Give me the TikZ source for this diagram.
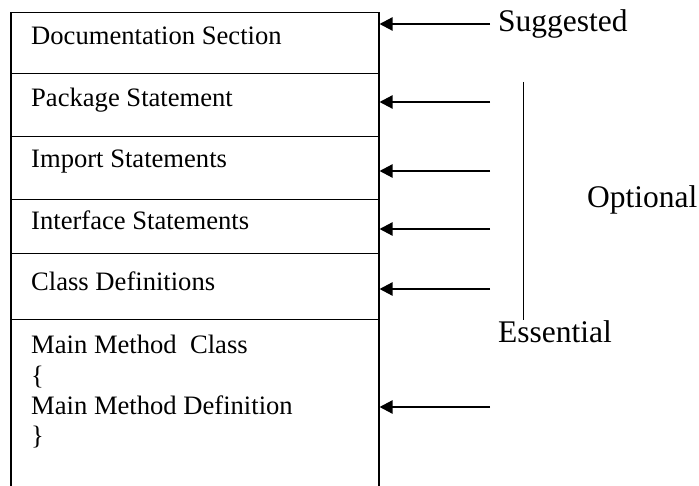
\documentclass[tikz,border=0pt]{standalone}
\usepackage{fontspec}
\setmainfont{Liberation Serif}
\usetikzlibrary{arrows.meta}
\begin{document}
\begin{tikzpicture}[x=1pt,y=-1pt,
  row/.style={draw, line width=1.5pt, minimum width=368pt, inner sep=0pt, anchor=north west},
  rowtext/.style={anchor=base west, inner sep=0pt, font=\fontsize{26.6}{30.4}\selectfont},
  sidelabel/.style={anchor=base west, inner sep=0pt, font=\fontsize{31.5}{36}\selectfont},
  arr/.style={line width=2.2pt, -{Triangle[length=13pt,width=13pt]}}]
\clip (0,0) rectangle (699,486);
% program sections stacked top to bottom
\node[row, minimum height=61pt] (doc) at (10,12) {};
\node[row, minimum height=63pt] (pkg) at (10,73) {};
\node[row, minimum height=63pt] (imp) at (10,136) {};
\node[row, minimum height=54pt] (ifc) at (10,199) {};
\node[row, minimum height=66pt] (cls) at (10,253) {};
\node[row, minimum height=190pt] (mainc) at (10,319) {};

\node[rowtext] (tdoc) at (31,45) {Documentation Section};
\node[rowtext] (tpkg) at (31,107) {Package Statement};
\node[rowtext] (timp) at (31,168) {Import Statements};
\node[rowtext] (tifc) at (31,230) {Interface Statements};
\node[rowtext] (tcls) at (31,291) {Class Definitions};
\node[rowtext, anchor=north west, align=left] (tmain) at (31,335)
  {Main Method\ \ Class\\\{\\Main Method Definition\\\}};

% arrow tails
\coordinate (s1) at (490,24);
\coordinate (s2) at (490,102);
\coordinate (s3) at (490,171);
\coordinate (s4) at (490,229);
\coordinate (s5) at (490,289);
\coordinate (s6) at (490,407);

\draw[arr] (s1) -- (s1 -| doc.east);
\draw[arr] (s2) -- (s2 -| pkg.east);
\draw[arr] (s3) -- (s3 -| imp.east);
\draw[arr] (s4) -- (s4 -| ifc.east);
\draw[arr] (s5) -- (s5 -| cls.east);
\draw[arr] (s6) -- (s6 -| mainc.east);

% labels on the right
\node[sidelabel] (sug) at (498,32) {Suggested};
\node[sidelabel] (opt) at (587,208) {Optional};
\node[sidelabel] (ess) at (498,343) {Essential};
\coordinate (vtop) at (523,82);
\draw[line width=1pt] (vtop) -- (vtop |- 0,320);
\end{tikzpicture}
\end{document}
